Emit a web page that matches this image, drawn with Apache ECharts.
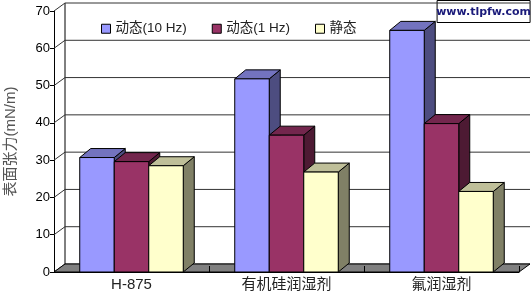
<!DOCTYPE html>
<html>
<head>
<meta charset="utf-8">
<script src="https://cdn.jsdelivr.net/npm/echarts@6/dist/echarts.min.js"></script>
<style>html,body{margin:0;padding:0;background:#fff;}#c{width:532px;height:296px;}</style>
</head>
<body>
<div id="c"></div>
<script>
const categories = ['H-875', '有机硅润湿剂', '氟润湿剂'];
const seriesNames = ['动态(10 Hz)', '动态(1 Hz)', '静态'];
const dyn10 = [30.7, 51.8, 64.8];
const dyn1 = [29.6, 36.7, 39.8];
const staticVals = [28.5, 26.8, 21.6];
const yTicks = [0, 10, 20, 30, 40, 50, 60, 70];

const FONT = "'Liberation Sans','Noto Sans CJK SC',sans-serif";
const WALL_DX = 11, WALL_DY = -8;
const BAR_DX = 11, BAR_DY = -9;
const BAR_FRAC = 0.2226;
const palette = [
  {front: '#9999FF', top: '#7373BF', side: '#4D4D80'},
  {front: '#993366', top: '#73264D', side: '#4D1A33'},
  {front: '#FFFFCC', top: '#BFBF99', side: '#808066'}
];

function barRender(k) {
  return function (params, api) {
    const c = api.coord([api.value(0), api.value(1)]);
    const b = api.coord([api.value(0), 0]);
    const band = api.size([1, 0])[0];
    const w = band * BAR_FRAC;
    const x0 = c[0] + (k - 1.5) * w;
    const x1 = x0 + w;
    const yt = c[1], yb = b[1];
    const col = palette[k];
    const st = (fill) => ({fill: fill, stroke: '#000', lineWidth: 1});
    return {
      type: 'group',
      children: [
        {type: 'polygon', shape: {points: [[x1, yt], [x1 + BAR_DX, yt + BAR_DY], [x1 + BAR_DX, yb + BAR_DY], [x1, yb]]}, style: st(col.side)},
        {type: 'polygon', shape: {points: [[x0, yt], [x0 + BAR_DX, yt + BAR_DY], [x1 + BAR_DX, yt + BAR_DY], [x1, yt]]}, style: st(col.top)},
        {type: 'rect', shape: {x: x0, y: yt, width: w, height: yb - yt}, style: st(col.front)}
      ]
    };
  };
}

function wallRender(params, api) {
  const cs = params.coordSys;
  const v = api.value(0);
  const y = api.coord([0, v])[1];
  const left = cs.x, right = cs.x + cs.width;
  const children = [
    {type: 'line', shape: {x1: left + WALL_DX, y1: y + WALL_DY, x2: right + WALL_DX, y2: y + WALL_DY}, style: {stroke: '#333', lineWidth: 1}},
    {type: 'line', shape: {x1: left, y1: y, x2: left + WALL_DX, y2: y + WALL_DY}, style: {stroke: '#333', lineWidth: 1}}
  ];
  if (v === 0) {
    const top = api.coord([0, yTicks[yTicks.length - 1]])[1];
    children.push({type: 'line', shape: {x1: left + WALL_DX, y1: top + WALL_DY, x2: left + WALL_DX, y2: y + WALL_DY}, style: {stroke: '#000', lineWidth: 1}});
    children.push({type: 'polygon', shape: {points: [[left, y], [right, y], [right + WALL_DX, y + WALL_DY], [left + WALL_DX, y + WALL_DY]]}, style: {fill: '#808080', stroke: '#000', lineWidth: 1}});
  }
  return {type: 'group', children: children};
}

const valueSets = [dyn10, dyn1, staticVals];
const chart = echarts.init(document.getElementById('c'), null, {renderer: 'canvas'});
chart.setOption({
  backgroundColor: '#fff',
  animation: false,
  grid: {left: 54, right: 13, top: 11, bottom: 24, containLabel: false, outerBoundsMode: 'none'},
  legend: {
    data: seriesNames,
    left: 96, top: 17,
    itemWidth: 9, itemHeight: 9, itemGap: 25,
    icon: 'rect',
    itemStyle: {borderColor: '#000', borderWidth: 1},
    textStyle: {fontSize: 13.5, fontFamily: FONT, color: '#222'}
  },
  xAxis: {
    type: 'category', data: categories, z: 10,
    axisLine: {show: true, lineStyle: {color: '#000', width: 1}},
    axisTick: {show: true, inside: true, length: 6, lineStyle: {color: '#000'}},
    axisLabel: {fontSize: 15, fontFamily: FONT, color: '#222', margin: 5},
    splitLine: {show: false}
  },
  yAxis: {
    type: 'value', min: 0, max: 70, interval: 10,
    name: '表面张力(mN/m)', nameLocation: 'middle', nameGap: 36,
    nameTextStyle: {fontSize: 15, fontFamily: FONT, color: '#555'},
    axisLine: {show: true, lineStyle: {color: '#000', width: 1}},
    axisTick: {show: true, length: 4, lineStyle: {color: '#000'}},
    axisLabel: {fontSize: 13, fontFamily: FONT, color: '#000', margin: 4},
    splitLine: {show: false}
  },
  series: [
    {type: 'custom', silent: true, data: yTicks.map(v => [v]), renderItem: wallRender, encode: {x: -1, y: 0}, z: 1}
  ].concat(valueSets.map((vals, k) => ({
    type: 'custom', name: seriesNames[k], z: 2,
    itemStyle: {color: palette[k].front, borderColor: '#000', borderWidth: 1},
    data: vals.map((v, i) => [i, v]),
    encode: {x: 0, y: 1},
    renderItem: barRender(k)
  }))),
  graphic: [
    {type: 'group', right: 1, top: 0, z: 100, children: [
      {type: 'rect', shape: {x: 0, y: 0, width: 93, height: 22}, style: {fill: '#fff', stroke: '#000', lineWidth: 1}},
      {type: 'text', x: 46.5, y: 12, style: {text: 'www.tlpfw.com', fill: '#1a1a7a', font: "bold 11px 'DejaVu Sans',sans-serif", textAlign: 'center', textVerticalAlign: 'middle'}}
    ]}
  ]
});
</script>
</body>
</html>
